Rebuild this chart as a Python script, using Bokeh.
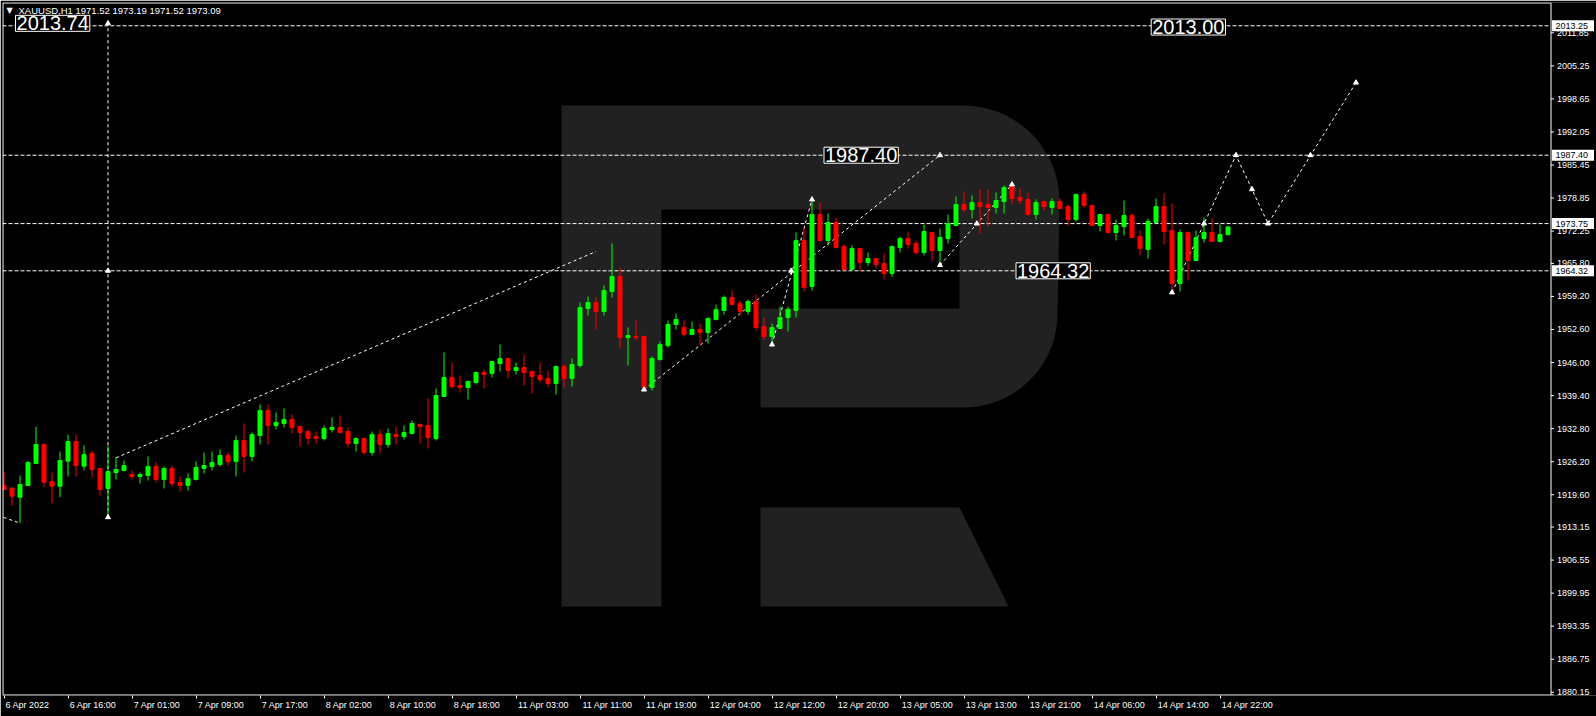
import numpy as np
from bokeh.plotting import figure
from bokeh.models import Range1d, FixedTicker, Label, ColumnDataSource
from bokeh.core.properties import value
from bokeh.embed import file_html
from bokeh.resources import INLINE

# ---------------- data ----------------
symbol = "XAUUSD,H1"
opens = [1921.45, 1920.91, 1919.11, 1921.45, 1925.84, 1929.63, 1922.24, 1921.31, 1926.30, 1930.23,
         1925.30, 1927.84, 1924.84, 1920.85, 1924.04, 1924.44, 1923.64, 1923.24, 1923.44, 1925.24,
         1922.64, 1924.84, 1922.04, 1921.45, 1922.64, 1924.84, 1925.24, 1925.64, 1927.44, 1926.24,
         1930.43, 1927.24, 1931.43, 1936.42, 1933.43, 1933.83, 1934.63, 1933.23, 1932.23, 1931.23,
         1930.83, 1932.63, 1933.03, 1932.23, 1929.83, 1930.83, 1928.04, 1931.63, 1929.63, 1931.63,
         1931.23, 1931.83, 1933.63, 1933.43, 1930.83, 1939.22, 1943.01, 1941.42, 1941.02, 1942.01,
         1944.01, 1943.81, 1945.81, 1946.81, 1944.41, 1945.01, 1944.21, 1943.41, 1942.81, 1941.81,
         1945.21, 1942.81, 1945.41, 1956.79, 1957.99, 1956.19, 1960.19, 1963.18, 1951.00, 1951.20,
         1951.20, 1941.02, 1946.61, 1949.40, 1953.60, 1953.00, 1951.60, 1952.60, 1952.00, 1954.60,
         1956.39, 1958.99, 1957.79, 1956.19, 1958.19, 1953.20, 1951.20, 1952.80, 1954.99, 1956.39,
         1970.37, 1961.19, 1975.56, 1970.37, 1973.97, 1969.17, 1964.58, 1968.77, 1965.98, 1966.78,
         1965.78, 1963.78, 1968.97, 1970.77, 1969.77, 1967.98, 1971.97, 1968.37, 1970.77, 1973.37,
         1977.56, 1976.56, 1977.96, 1977.56, 1976.96, 1978.16, 1981.16, 1978.96, 1978.56, 1975.56,
         1978.16, 1976.96, 1978.16, 1977.16, 1974.56, 1979.56, 1977.36, 1973.37, 1975.56, 1971.97,
         1973.17, 1975.36, 1971.17, 1968.57, 1973.97, 1977.16, 1972.37, 1961.78, 1971.97, 1966.38,
         1970.77, 1971.97, 1970.17, 1971.52]
highs = [1924.24, 1921.11, 1923.44, 1926.30, 1933.23, 1929.89, 1924.04, 1928.24, 1931.63, 1931.63,
         1929.43, 1928.43, 1924.84, 1929.37, 1927.04, 1926.44, 1924.44, 1924.04, 1927.24, 1926.04,
         1925.24, 1925.44, 1923.24, 1923.84, 1926.24, 1928.04, 1928.24, 1928.63, 1928.04, 1931.43,
         1933.83, 1932.03, 1937.62, 1937.62, 1936.02, 1936.82, 1935.62, 1933.23, 1932.63, 1932.23,
         1933.43, 1935.03, 1935.42, 1933.03, 1931.03, 1931.03, 1932.23, 1932.63, 1932.83, 1933.23,
         1933.43, 1934.43, 1933.83, 1938.82, 1940.82, 1948.01, 1946.01, 1943.41, 1942.41, 1944.21,
         1944.61, 1946.21, 1949.60, 1947.01, 1946.01, 1947.61, 1944.41, 1946.01, 1944.41, 1945.41,
         1945.61, 1946.81, 1957.99, 1959.19, 1958.99, 1961.39, 1969.77, 1964.98, 1953.00, 1954.40,
         1951.40, 1947.21, 1950.20, 1954.40, 1955.79, 1954.40, 1954.20, 1953.80, 1954.99, 1957.59,
         1959.39, 1960.39, 1958.39, 1958.59, 1959.59, 1954.99, 1953.80, 1957.19, 1957.19, 1971.97,
         1972.97, 1978.16, 1977.96, 1975.76, 1974.97, 1969.57, 1969.37, 1968.77, 1967.98, 1966.78,
         1967.78, 1969.37, 1971.17, 1972.17, 1970.37, 1973.57, 1971.97, 1972.77, 1975.56, 1979.16,
         1980.16, 1979.36, 1980.56, 1980.56, 1979.96, 1981.36, 1981.75, 1980.76, 1979.96, 1978.56,
         1978.16, 1978.76, 1978.76, 1977.56, 1979.76, 1980.16, 1977.36, 1975.56, 1975.56, 1974.56,
         1978.36, 1975.76, 1972.37, 1974.77, 1978.76, 1979.76, 1977.76, 1972.57, 1972.17, 1972.37,
         1974.97, 1974.77, 1973.57, 1973.19]
lows = [1920.45, 1917.45, 1913.92, 1921.31, 1925.70, 1921.11, 1917.91, 1919.11, 1923.24, 1923.24,
        1924.44, 1923.04, 1919.45, 1915.11, 1922.64, 1924.24, 1922.64, 1921.84, 1922.44, 1922.04,
        1920.85, 1921.25, 1920.25, 1920.45, 1922.44, 1923.84, 1924.44, 1925.24, 1925.44, 1923.24,
        1924.04, 1926.24, 1929.63, 1929.63, 1932.63, 1933.03, 1931.83, 1929.23, 1929.63, 1929.83,
        1930.43, 1932.03, 1931.83, 1929.03, 1928.24, 1927.64, 1927.44, 1927.84, 1929.03, 1929.63,
        1930.63, 1931.63, 1929.83, 1928.83, 1930.43, 1939.22, 1940.82, 1940.02, 1938.62, 1941.62,
        1940.82, 1943.01, 1944.21, 1942.81, 1943.61, 1941.42, 1939.82, 1942.01, 1941.02, 1939.62,
        1941.02, 1941.22, 1945.01, 1955.39, 1952.60, 1955.39, 1958.99, 1948.80, 1945.41, 1950.40,
        1940.42, 1940.42, 1946.41, 1949.00, 1952.60, 1951.20, 1951.60, 1949.40, 1949.80, 1954.40,
        1955.59, 1957.59, 1955.39, 1955.59, 1952.40, 1950.60, 1949.20, 1952.80, 1952.20, 1954.99,
        1960.19, 1960.39, 1970.17, 1969.37, 1968.77, 1964.38, 1964.38, 1964.18, 1965.38, 1964.78,
        1962.58, 1963.18, 1967.98, 1968.77, 1967.58, 1967.38, 1966.18, 1965.98, 1969.77, 1973.37,
        1975.96, 1974.77, 1971.77, 1973.17, 1975.76, 1975.76, 1977.56, 1977.56, 1975.36, 1974.56,
        1976.36, 1975.56, 1976.76, 1973.37, 1974.17, 1976.96, 1973.37, 1972.17, 1971.77, 1970.37,
        1971.37, 1970.97, 1967.38, 1966.78, 1973.97, 1969.57, 1959.99, 1960.19, 1962.38, 1966.38,
        1969.97, 1970.17, 1969.97, 1971.52]
closes = [1920.65, 1919.31, 1921.65, 1926.04, 1929.63, 1922.10, 1921.31, 1926.44, 1930.23, 1925.44,
          1927.64, 1924.64, 1920.65, 1924.24, 1924.64, 1925.44, 1923.24, 1923.64, 1925.24, 1922.64,
          1924.84, 1921.84, 1921.45, 1922.84, 1925.04, 1925.44, 1926.04, 1927.44, 1926.24, 1930.43,
          1927.24, 1931.63, 1936.42, 1933.43, 1934.03, 1934.63, 1933.03, 1932.03, 1930.83, 1930.83,
          1932.83, 1933.03, 1932.03, 1929.83, 1930.83, 1928.04, 1931.63, 1929.63, 1931.83, 1931.23,
          1932.03, 1933.83, 1933.23, 1931.03, 1939.42, 1943.01, 1941.22, 1941.02, 1942.21, 1944.01,
          1943.61, 1946.21, 1946.81, 1944.41, 1945.01, 1944.01, 1943.21, 1942.61, 1941.81, 1945.21,
          1942.81, 1945.61, 1956.99, 1957.99, 1956.19, 1960.39, 1963.18, 1951.00, 1951.40, 1951.00,
          1941.02, 1946.81, 1949.60, 1953.60, 1954.60, 1951.60, 1952.60, 1952.00, 1954.80, 1956.59,
          1958.99, 1957.59, 1956.19, 1958.19, 1953.00, 1951.20, 1953.00, 1954.99, 1956.59, 1970.37,
          1960.99, 1975.56, 1970.37, 1973.97, 1968.97, 1964.58, 1968.77, 1965.98, 1966.78, 1965.58,
          1963.78, 1969.17, 1970.77, 1969.57, 1967.98, 1972.17, 1968.37, 1970.97, 1973.77, 1977.56,
          1976.56, 1977.96, 1977.16, 1976.96, 1978.36, 1980.96, 1978.76, 1978.36, 1975.56, 1977.96,
          1977.16, 1978.16, 1976.76, 1974.56, 1979.56, 1977.36, 1973.37, 1975.56, 1971.97, 1973.37,
          1975.36, 1970.97, 1968.77, 1974.17, 1977.16, 1972.17, 1961.78, 1971.97, 1966.38, 1970.97,
          1971.97, 1970.17, 1971.57, 1973.09]

tick_bars = list(range(0, 153, 8))
tick_labels = ["6 Apr 2022", "6 Apr 16:00", "7 Apr 01:00", "7 Apr 09:00", "7 Apr 17:00",
               "8 Apr 02:00", "8 Apr 10:00", "8 Apr 18:00", "11 Apr 03:00", "11 Apr 11:00",
               "11 Apr 19:00", "12 Apr 04:00", "12 Apr 12:00", "12 Apr 20:00", "13 Apr 05:00",
               "13 Apr 13:00", "13 Apr 21:00", "14 Apr 06:00", "14 Apr 14:00", "14 Apr 22:00"]
price_ticks = [2011.85, 2005.25, 1998.65, 1992.05, 1985.45, 1978.85, 1972.25, 1965.80, 1959.20,
               1952.60, 1946.00, 1939.40, 1932.80, 1926.20, 1919.60, 1913.15, 1906.55, 1899.95,
               1893.35, 1886.75, 1880.15]

# horizontal levels (shown on the price scale)
levels = [2013.25, 1987.40, 1973.75, 1964.32]
# boxed price labels on the chart: value and the bar index of the box's left edge
box_prices = [2013.74, 2013.00, 1987.40, 1964.32]
box_bars = [1.44, 143.4, 102.5, 126.5]

# analysis lines (bar index, price)
lines_x = [[-5, 2], [13, 13], [14, 74], [80, 117], [96, 101], [117, 126], [146, 154, 158, 169]]
lines_y = [[1917.9, 1913.92], [1915.11, 2013.74], [1926.97, 1968.17], [1940.6, 1987.40],
           [1949.6, 1978.56], [1965.47, 1981.55], [1960.0, 1987.40, 1973.75, 2001.9]]
mark_x = [13, 13, 13, 80, 98.4, 117, 96, 101, 117, 121.6, 126, 146, 150, 154, 156, 158, 163.3, 169]
mark_y = [1915.11, 2013.74, 1964.32, 1940.6, 1964.32, 1987.40, 1949.6, 1978.56, 1965.47, 1973.75,
          1981.55, 1960.0, 1973.75, 1987.40, 1980.6, 1973.75, 1987.40, 2001.9]

# ---------------- figure ----------------
W, H = 1596, 716
BL, BT, BB = 2, 2, 21
FW, FH = W - BL, H - BT - BB          # the frame also holds the price scale on its right
PXX = 1 / 8.0                          # bars per pixel
X0 = -0.1875
X1 = X0 + FW * PXX
XE = X0 + 1548 * PXX                   # right edge of the chart area (price scale starts here)
Y0, Y1 = 1879.51, 2017.90
PXY = (Y1 - Y0) / FH                   # price per pixel

p = figure(width=W, height=H, x_range=Range1d(X0, X1), y_range=Range1d(Y0, Y1),
           output_backend="svg", toolbar_location=None, y_axis_location=None,
           background_fill_color="black", border_fill_color="black",
           min_border_left=BL, min_border_top=BT, min_border_right=0, min_border_bottom=BB)
p.grid.visible = False
p.outline_line_color = None

FONT = "Liberation Sans"

# helpers: picture pixel -> data (used for the watermark / header only)
def ix(px):
    return (px - 3.5) / 8.0

def pr(py):
    return 2018.30 - py * 0.1997

# ---- watermark "R" (one outline for stem + bowl, one for the leg) ----
G = "#212121"
def poly(pts):
    return [ix(a) for a, b in pts], [pr(b) for a, b in pts]

body = [(561, 105), (963, 105)]
for t in np.linspace(90, 0, 18):
    body.append((963 + 96 * np.cos(np.radians(t)), 201 - 96 * np.sin(np.radians(t))))
for t in np.linspace(0, -90, 18):
    body.append((963 + 94 * np.cos(np.radians(t)), 313 - 94 * np.sin(np.radians(t))))
body += [(760, 407), (760, 308), (959, 308), (959, 209), (661, 209), (661, 606), (561, 606)]
leg = [(760, 507), (959, 507), (1008, 606), (760, 606)]
gx, gy = [], []
for sh in (body, leg):
    a, b = poly(sh)
    gx.append(a); gy.append(b)
p.patches(gx, gy, fill_color=G, line_color=None)

# ---- level lines (chart area only) ----
p.segment(x0=[X0] * len(levels), y0=levels, x1=[XE] * len(levels), y1=levels,
          line_color="white", line_dash="4 2", line_width=1)

# ---- analysis lines ----
p.multi_line(lines_x, lines_y, line_color="white", line_dash="3 3", line_width=1)

# ---- candles ----
xs = list(range(len(opens)))
cols = ["#00ff00" if c >= o else "#ff0000" for o, c in zip(opens, closes)]
src = ColumnDataSource(dict(x=xs, o=opens, h=highs, l=lows, c=closes, col=cols,
                            top=[max(o, c) for o, c in zip(opens, closes)],
                            bot=[min(o, c) for o, c in zip(opens, closes)]))
p.segment(x0="x", y0="h", x1="x", y1="l", line_color="col", line_width=1, source=src)
p.vbar(x="x", width=0.5, top="top", bottom="bot", fill_color="col", line_color="col", line_width=1, source=src)

p.scatter(mark_x, mark_y, marker="triangle", size=5, fill_color="white", line_color="white")

# ---- boxed labels ----
for bb, bp in zip(box_bars, box_prices):
    p.add_layout(Label(x=bb, y=bp, text=f"{bp:.2f}", text_align="left", text_baseline="middle",
                       text_font=FONT, text_font_size="20px", text_color="white",
                       background_fill_color="black", border_line_color="white", border_line_width=1,
                       padding=1))

# header
p.add_layout(Label(x=ix(18), y=pr(10), text=f"{symbol}  {opens[-1]:.2f} {highs[-1]:.2f} {lows[-1]:.2f} {closes[-1]:.2f}",
                   text_align="left", text_baseline="middle", text_font=FONT,
                   text_font_size="9.5px", text_color="white"))
p.add_layout(Label(x=ix(6), y=pr(10), text="\u25bc", text_align="left", text_baseline="middle",
                   text_font="DejaVu Sans", text_font_size="8px", text_color="white"))

# ---- chart border (white frame around the chart area) ----
bx0, bx1 = X0 + 0.5 * PXX, XE + 0.5 * PXX
by0, by1 = Y0 + 0.5 * PXY, Y1 - 0.5 * PXY
p.multi_line([[bx0, bx1, bx1, bx0, bx0], [bx1, bx1 + 3 * PXX]],
             [[by1, by1, by0, by0, by1], [Y0 + 0.5 * PXY, Y0 + 0.5 * PXY]],
             line_color="white", line_width=1)

# ---- price scale (right of the chart area) ----
p.segment(x0=[bx1] * len(price_ticks), y0=price_ticks, x1=[bx1 + 3 * PXX] * len(price_ticks),
          y1=price_ticks, line_color="white", line_width=1)
p.text(x=[XE + 6.5 * PXX] * len(price_ticks), y=price_ticks, text=[f"{t:.2f}" for t in price_ticks],
       text_font=value(FONT), text_font_size="9px", text_color="white",
       text_align="left", text_baseline="middle")
p.rect(x=[XE + 22.5 * PXX] * len(levels), y=levels, width=42, height=11,
       width_units="screen", height_units="screen", fill_color="white", line_color=None)
p.text(x=[XE + 5 * PXX] * len(levels), y=levels, text=[f"{lv:.2f}" for lv in levels],
       text_font=value(FONT), text_font_size="9px", text_color="black",
       text_align="left", text_baseline="middle")

# ---- time axis: minor ticks mark the bars, labels sit to the right of them ----
CW = {"0": .556, "1": .556, "2": .556, "3": .556, "4": .556, "5": .556, "6": .556, "7": .556,
      "8": .556, "9": .556, " ": .278, ":": .278, "A": .667, "p": .556, "r": .333}
LFS = 9.0
def shift(s):
    w = sum(CW.get(ch, .55) for ch in s) * LFS
    return round((w / 2 + 1.5) / 8 * 16) / 16
lab_pos = [t + shift(s) for t, s in zip(tick_bars, tick_labels)]
xa = p.xaxis[0]
xa.ticker = FixedTicker(ticks=lab_pos, minor_ticks=tick_bars)
xa.major_label_overrides = {pos: s for pos, s in zip(lab_pos, tick_labels)}
xa.major_label_text_color = "white"
xa.major_label_text_font = FONT
xa.major_label_text_font_size = f"{LFS:g}px"
xa.major_label_standoff = 1
xa.major_tick_out = 3
xa.major_tick_in = 0
xa.major_tick_line_color = None
xa.minor_tick_out = 3
xa.minor_tick_in = 0
xa.minor_tick_line_color = "white"
xa.axis_line_color = None

open("out.html", "w").write(file_html(p, INLINE))
